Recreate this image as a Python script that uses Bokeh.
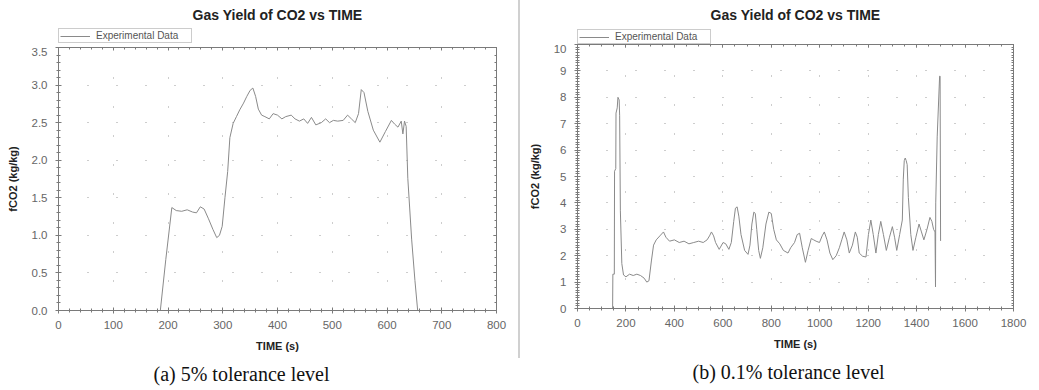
from bokeh.plotting import figure
from bokeh.layouts import row, column
from bokeh.models import (Div, Legend, LegendItem, LinearAxis, Range1d, SingleIntervalTicker,
                          NumeralTickFormatter, Title)
from bokeh.embed import file_html
from bokeh.resources import INLINE

# ---------------- data ----------------
title_text = "Gas Yield of CO2 vs TIME"
x_label = "TIME (s)"
y_label = "fCO2 (kg/kg)"
series_name = "Experimental Data"
caption_a = "(a) 5% tolerance level"
caption_b = "(b) 0.1% tolerance level"

time_a = [186, 196, 207, 215, 225, 235, 245, 252, 259, 266, 274, 282, 289, 294, 299, 304,
          309, 313, 319, 325, 331, 338, 344, 350, 355, 360, 365, 371, 377, 385, 392, 400,
          408, 415, 425, 432, 440, 448, 455, 462, 470, 480, 488, 495, 502, 510, 520, 528,
          535, 542, 548, 553, 558, 565, 575, 587, 597, 608, 614, 620, 626, 629, 632, 635,
          638, 645, 651, 656]
fco2_a = [0.0, 0.68, 1.37, 1.33, 1.32, 1.34, 1.31, 1.30, 1.38, 1.35, 1.22, 1.08, 0.97, 1.0,
          1.12, 1.5, 1.85, 2.3, 2.49, 2.58, 2.67, 2.76, 2.85, 2.93, 2.96, 2.85, 2.68, 2.6,
          2.58, 2.55, 2.62, 2.6, 2.55, 2.58, 2.6, 2.55, 2.52, 2.55, 2.49, 2.57, 2.47, 2.5,
          2.55, 2.5, 2.53, 2.52, 2.53, 2.6, 2.55, 2.5, 2.62, 2.94, 2.9, 2.65, 2.4, 2.24,
          2.38, 2.53, 2.48, 2.44, 2.52, 2.35, 2.52, 2.45, 1.76, 0.95, 0.4, 0.0]

time_b = [145, 146, 152, 153, 158, 159, 164, 167, 172, 174, 177, 183, 190, 200, 215, 230,
          245, 260, 275, 286, 295, 305, 314, 325, 340, 355, 365, 380, 400, 420, 440, 460,
          480, 500, 519, 535, 545, 553, 562, 570, 585, 601, 612, 625, 635, 645, 652, 659,
          666, 675, 690, 704, 712, 720, 728, 734, 740, 748, 755, 765, 778, 790, 800, 810,
          821, 835, 850, 869, 880, 896, 907, 917, 928, 941, 952, 965, 975, 985, 999, 1010,
          1019, 1030, 1042, 1054, 1068, 1081, 1091, 1101, 1112, 1122, 1135, 1147, 1155,
          1163, 1177, 1191, 1201, 1211, 1221, 1232, 1242, 1252, 1263, 1275, 1288, 1300,
          1309, 1318, 1330, 1341, 1345, 1349, 1353, 1357, 1361, 1366, 1376, 1385, 1397,
          1410, 1420, 1430, 1443, 1455, 1463, 1470, 1476, 1478, 1479, 1485, 1495, 1497,
          1499]
fco2_b = [0.0, 1.3, 1.3, 5.2, 5.3, 7.4, 7.6, 8.0, 7.9, 7.3, 3.7, 1.7, 1.27, 1.2, 1.3, 1.25,
          1.3, 1.25, 1.15, 1.0, 1.05, 1.8, 2.4, 2.6, 2.75, 2.9, 2.7, 2.55, 2.6, 2.5, 2.55,
          2.45, 2.5, 2.55, 2.5, 2.6, 2.75, 2.9, 2.75, 2.5, 2.24, 2.5, 2.45, 2.24, 2.5, 3.3,
          3.8, 3.85, 3.5, 2.8, 2.2, 2.05, 2.4, 3.2, 3.65, 3.6, 3.0, 2.2, 1.9, 2.3, 3.2, 3.65,
          3.6, 3.0, 2.6, 2.45, 2.2, 2.1, 2.3, 2.5, 2.8, 2.85, 2.3, 1.75, 2.2, 2.65, 2.6,
          2.55, 2.5, 2.75, 2.9, 2.6, 2.1, 1.85, 2.0, 2.3, 2.6, 2.9, 2.6, 2.1, 2.4, 2.9, 2.7,
          2.1, 1.98, 1.95, 2.8, 3.35, 2.8, 2.1, 2.8, 3.3, 2.8, 2.2, 2.7, 3.1, 2.7, 2.2, 2.8,
          3.35, 4.9, 5.6, 5.7, 5.6, 5.45, 4.2, 2.8, 2.2, 2.7, 3.2, 2.9, 2.6, 3.0, 3.45, 3.3,
          3.0, 2.9, 0.82, 4.0, 6.5, 8.8, 8.8, 2.56]

FONT = "Liberation Sans"
LINE = "#8a8a8a"
AX = "#7a7a7a"


def make_header(t, v, width, height, left, right, leg_y):
    # strip above the plot holding the title and the legend
    h = figure(width=width, height=height, output_backend="svg", toolbar_location=None,
               x_range=Range1d(0, 1), y_range=Range1d(-1, 0),
               x_axis_location=None, y_axis_location=None,
               min_border_left=left, min_border_right=right,
               min_border_top=24, min_border_bottom=0,
               background_fill_color="white", border_fill_color="white",
               outline_line_color=None)
    h.xgrid.visible = False
    h.ygrid.visible = False
    h.title.text = title_text
    h.title.text_font = FONT
    h.title.text_font_size = "14px"
    h.title.text_font_style = "bold"
    h.title.text_color = "#222222"
    h.title.align = "center"
    h.title.standoff = 3
    # same series, lying outside this strip's ranges: only its legend swatch shows
    key = h.line(t, v, line_color=LINE, line_width=1)
    leg = Legend(items=[LegendItem(label=series_name, renderers=[key])],
                 location=(0, leg_y), orientation="vertical")
    leg.border_line_color = "#999999"
    leg.background_fill_color = "white"
    leg.label_text_font = FONT
    leg.label_text_font_size = "10px"
    leg.label_text_color = "#555555"
    leg.glyph_width = 30
    leg.glyph_height = 8
    leg.label_height = 8
    leg.label_width = 94
    leg.label_standoff = 6
    leg.padding = 1
    leg.spacing = 0
    leg.margin = 0
    h.add_layout(leg)
    return h


def make_panel(t, v, xmax, ymax, xstep, xminor, ystep, yminor, yfmt, caption,
               width, height, borders, cap_offset):
    left, right, bottom = borders
    p = figure(width=width, height=height, output_backend="svg", toolbar_location=None,
               x_range=Range1d(0, xmax), y_range=Range1d(0, ymax),
               min_border_left=left, min_border_right=right,
               min_border_top=0, min_border_bottom=bottom,
               background_fill_color="white", border_fill_color="white",
               outline_line_color=AX)

    xt = SingleIntervalTicker(interval=xstep, num_minor_ticks=xminor)
    yt = SingleIntervalTicker(interval=ystep, num_minor_ticks=yminor)
    p.xaxis.ticker = xt
    p.yaxis.ticker = yt
    p.yaxis.formatter = NumeralTickFormatter(format=yfmt)
    for ax in (p.xaxis[0], p.yaxis[0]):
        ax.axis_line_color = AX
        ax.major_tick_line_color = AX
        ax.minor_tick_line_color = AX
        ax.major_tick_in = 3
        ax.major_tick_out = 3
        ax.minor_tick_in = 2
        ax.minor_tick_out = 2
        ax.major_label_text_font = FONT
        ax.major_label_text_font_size = "11.5px"
        ax.major_label_text_color = "#666666"
        ax.axis_label_text_font = FONT
        ax.axis_label_text_font_size = "11px"
        ax.axis_label_text_font_style = "bold"
        ax.axis_label_text_color = "#222222"
    p.xaxis.axis_label = x_label
    p.yaxis.axis_label = y_label
    p.xaxis.major_label_standoff = 7
    p.xaxis.axis_label_standoff = 8
    p.yaxis.major_label_standoff = 8
    p.yaxis.axis_label_standoff = 10

    # tick-only axes on the top and right edges of the frame
    for loc, tk in (("above", xt), ("right", yt)):
        ax = LinearAxis(ticker=tk, axis_line_color=AX, major_tick_line_color=AX,
                        minor_tick_line_color=AX, major_tick_in=3, major_tick_out=0,
                        minor_tick_in=2, minor_tick_out=0,
                        major_label_text_font_size="0px", major_label_text_color=None,
                        major_label_standoff=0)
        p.add_layout(ax, loc)

    p.xgrid.ticker = xt
    p.ygrid.ticker = yt
    for g in (p.xgrid[0], p.ygrid[0]):
        g.grid_line_color = "#9a9a9a"
        g.grid_line_dash = "1 28"
        g.grid_line_width = 1

    p.line(t, v, line_color=LINE, line_width=1)

    cap = Title(text=caption, align="left", offset=cap_offset, standoff=12,
                text_font="Liberation Serif", text_font_size="20px",
                text_font_style="normal", text_color="#111111")
    p.add_layout(cap, "below")
    return p


h1 = make_header(time_a, fco2_a, 518, 47, 57, 22, 4)
p1 = make_panel(time_a, fco2_a, 800, 3.5, 100, 5, 0.5, 5, "0.0", caption_a,
                518, 343, (58, 21, 80), 95)
h2 = make_header(time_b, fco2_b, 518, 44, 56, 25, 0)
p2 = make_panel(time_b, fco2_b, 1800, 10, 200, 4, 1, 10, "0", caption_b,
                518, 346, (57, 24, 82), 115)

sep = Div(width=2, height=358, margin=0, styles={"background-color": "#d0d0d0"})

layout = row(column(h1, p1, spacing=0), sep, column(h2, p2, spacing=0), spacing=0)
open("out.html", "w").write(file_html(layout, INLINE))
